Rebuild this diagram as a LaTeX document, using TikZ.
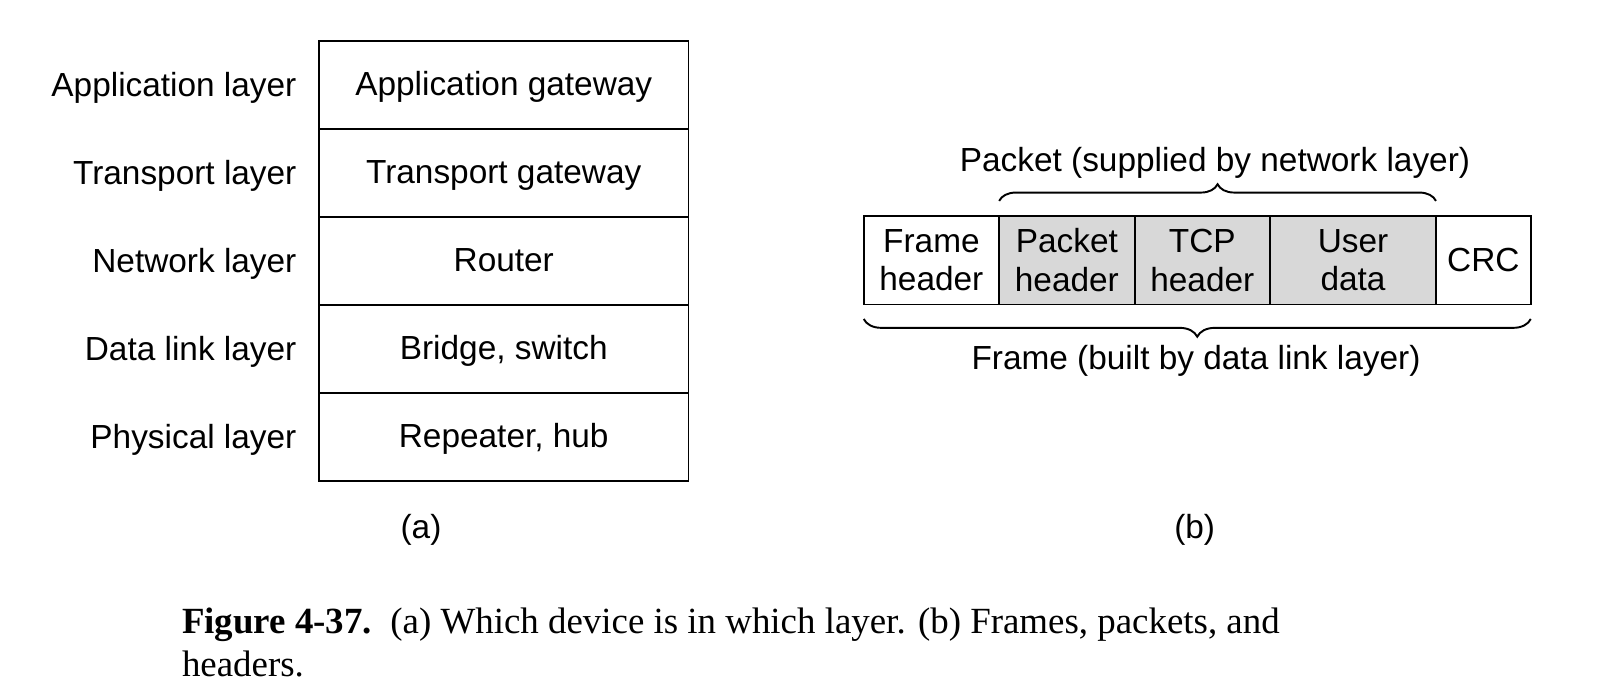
\documentclass[tikz,border=0pt]{standalone}
\usepackage{fontspec}
\setmainfont{Liberation Serif}
\setsansfont{Liberation Sans}
\usetikzlibrary{decorations.pathreplacing}
\definecolor{cellgray}{RGB}{216,216,216}
\begin{document}
\begin{tikzpicture}[x=0.02cm, y=-0.02cm, inner sep=0pt, outer sep=0pt, line width=1.1pt,
		every node/.append style={font=\sffamily\fontsize{19}{22}\selectfont},
		stackbox/.style={draw=black, minimum width=7.39cm, minimum height=1.76cm, text height=0.48cm, text depth=0.04cm},
		cellbox/.style={draw=black, minimum height=1.772cm, align=center},
		bracepath/.style={draw=black, decorate, decoration={brace, amplitude=#1}}]
			\useasboundingbox (0, 0) rectangle (1597, 694);
			\node[stackbox] (dev1) at (503.75, 84.7){Application gateway};
			\node[stackbox] (dev2) at (503.75, 172.7){Transport gateway};
			\node[stackbox] (dev3) at (503.75, 260.7){Router};
			\node[stackbox] (dev4) at (503.75, 348.7){Bridge, switch};
			\node[stackbox] (dev5) at (503.75, 436.7){Repeater, hub};
			\node[anchor=base east] (lay1) at (296.4, 96){Application layer};
			\node[anchor=base east] (lay2) at (296.4, 184){Transport layer};
			\node[anchor=base east] (lay3) at (296.4, 272){Network layer};
			\node[anchor=base east] (lay4) at (296.4, 360){Data link layer};
			\node[anchor=base east] (lay5) at (296.4, 448){Physical layer};
			\node (texta) at (421, 529.5){(a)};
			\node[cellbox, minimum width=2.708cm] (framehdr) at (931.4, 260.2){Frame\\header};
			\node[cellbox, minimum width=2.71cm, fill=cellgray] (pkthdr) at (1066.9, 260.2){Packet\\header};
			\node[cellbox, minimum width=2.708cm, fill=cellgray] (tcphdr) at (1202.3, 260.2){TCP\\header};
			\node[cellbox, minimum width=3.32cm, fill=cellgray] (userdata) at (1353, 260.2){User\\data};
			\node[cellbox, minimum width=1.896cm] (crc) at (1483.4, 260.2){CRC};
			\path[bracepath=0.334cm] ([yshift=0.3cm]pkthdr.north west) -- ([yshift=0.3cm]userdata.north east);
			\path[bracepath=0.354cm] ([yshift=-0.29cm]crc.south east) -- ([yshift=-0.29cm]framehdr.south west);
			\node[anchor=base] (textpkt) at (1215, 171){Packet (supplied by network layer)};
			\node[anchor=base] (textframe) at (1196, 369){Frame (built by data link layer)};
			\node (textb) at (1194.7, 529.5){(b)};
			\node[anchor=base west, font=\rmfamily\fontsize{21}{24}\selectfont] (cap1) at (182, 633){\textbf{Figure 4-37.}\ \ (a) Which device is in which layer. (b) Frames, packets, and};
			\node[anchor=base west, font=\rmfamily\fontsize{21}{24}\selectfont] (cap2) at (182, 676){headers.};
		\end{tikzpicture}
\end{document}
